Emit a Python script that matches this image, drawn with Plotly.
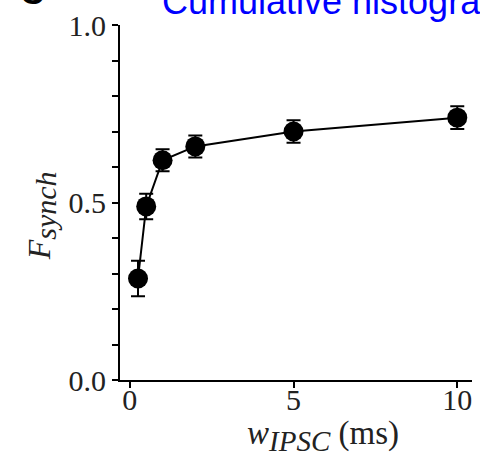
import plotly.graph_objects as go

w_ipsc = [0.25, 0.5, 1.0, 2.0, 5.0, 10.0]
f_synch = [0.286, 0.489, 0.619, 0.658, 0.700, 0.739]
f_err = [0.05, 0.036, 0.031, 0.031, 0.032, 0.032]

x_ticks = [0, 5, 10]
x_tick_labels = ["0", "5", "10"]
y_ticks = [0.0, 0.5, 1.0]
y_tick_labels = ["0.0", "0.5", "1.0"]

L, R, T, B = 120, 8, 20, 77
W, H = 480, 457
pw, ph = W - L - R, H - T - B

def px(xp):
    return (xp - L) / pw

def py(yp):
    return (H - B - yp) / ph

fig = go.Figure()
fig.add_trace(go.Scatter(
    x=w_ipsc, y=f_synch, mode="lines+markers",
    line=dict(color="black", width=2),
    marker=dict(color="black", size=20),
    error_y=dict(type="data", array=f_err, color="black", thickness=2, width=7),
    showlegend=False, cliponaxis=False,
))

serif = "Liberation Serif, Times New Roman, serif"
fig.update_layout(
    width=W, height=H,
    margin=dict(l=L, r=R, t=T, b=B),
    paper_bgcolor="white", plot_bgcolor="white",
    xaxis=dict(
        range=[-0.3, 10.45], tickvals=x_ticks, ticktext=x_tick_labels,
        showline=True, linecolor="black", linewidth=2, ticks="outside",
        ticklen=6, tickwidth=2, tickcolor="black", showgrid=False, zeroline=False,
        tickfont=dict(family=serif, size=30, color="#222"),
        ticklabelstandoff=-14,
    ),
    yaxis=dict(
        range=[0, 1], tickvals=y_ticks, ticktext=y_tick_labels,
        showline=True, linecolor="black", linewidth=2, ticks="outside",
        ticklen=6, tickwidth=2, tickcolor="black", showgrid=False, zeroline=False,
        tickfont=dict(family=serif, size=30, color="#222"),
        minor=dict(dtick=0.1, ticks="outside", ticklen=6, tickwidth=2, tickcolor="black", showgrid=False),
    ),
    annotations=[
        dict(text="Cumulative histograms", xref="paper", yref="paper",
             x=px(160), y=py(-4), xanchor="left", yanchor="middle", showarrow=False,
             font=dict(family="Liberation Sans, Arial, sans-serif", size=36, color="blue")),
        dict(text="<b>C</b>", xref="paper", yref="paper",
             x=px(32), y=py(-13), xanchor="center", yanchor="middle", showarrow=False,
             font=dict(family="Liberation Sans, Arial, sans-serif", size=34, color="black")),
        dict(text="<i>w<sub><span style='font-size:29px'>IPSC</span></sub></i> (ms)",
             xref="paper", yref="paper",
             x=px(323), y=py(437), xanchor="center", yanchor="middle", showarrow=False,
             font=dict(family=serif, size=33, color="#222")),
        dict(text="<i>F<sub><span style='font-size:30px'>synch</span></sub></i>",
             xref="paper", yref="paper",
             x=px(42), y=py(214), xanchor="center", yanchor="middle", showarrow=False,
             textangle=-90,
             font=dict(family=serif, size=32, color="#222")),
    ],
)

fig.write_html("out.html")
